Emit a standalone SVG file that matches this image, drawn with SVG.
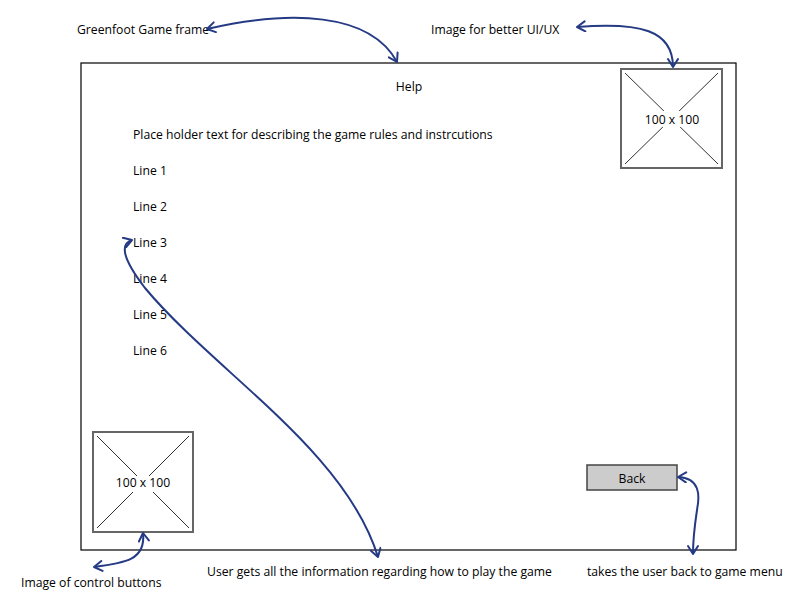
<svg xmlns="http://www.w3.org/2000/svg" width="800" height="600" viewBox="0 0 800 600">
<defs>
<marker id="ah" viewBox="0 0 12 12" refX="10" refY="6" markerWidth="12" markerHeight="12" markerUnits="userSpaceOnUse" orient="auto-start-reverse">
<path d="M2,1 L10,6 L2,11" fill="none" stroke="#253a84" stroke-width="2" stroke-linecap="round" stroke-linejoin="round"/>
</marker>
</defs>
<style>
text{font-family:"Comic Sans MS","Open Sans","Liberation Sans",sans-serif;font-size:12.2px;fill:#000}
.mid{text-anchor:middle}
.frame{fill:#fff;stroke:#000;stroke-width:1.2}
.img{fill:#fff;stroke:#666;stroke-width:2}
.x{stroke:#333;stroke-width:1}
.btn{fill:#ccc;stroke:#444;stroke-width:1.5}
.conn{fill:none;stroke:#253a84;stroke-width:2;marker-start:url(#ah);marker-end:url(#ah)}
</style>
<rect width="800" height="600" fill="#fff"/>
<g id="frame">
<rect class="frame" x="81" y="63" width="655" height="487"/>
<text class="mid" x="409" y="91">Help</text>
</g>
<g id="rules">
<text x="133" y="139">Place holder text for describing the game rules and instrcutions</text>
<text x="133" y="175">Line 1</text>
<text x="133" y="211">Line 2</text>
<text x="133" y="247">Line 3</text>
<text x="133" y="283">Line 4</text>
<text x="133" y="319">Line 5</text>
<text x="133" y="355">Line 6</text>
</g>
<g id="image-top">
<rect class="img" x="621" y="69" width="101" height="99"/>
<line class="x" x1="625" y1="73" x2="718" y2="164"/>
<line class="x" x1="718" y1="73" x2="625" y2="164"/>
<rect x="642" y="111" width="60" height="16" fill="#fff"/>
<text class="mid" x="672" y="124">100 x 100</text>
</g>
<g id="image-bottom">
<rect class="img" x="93" y="432" width="100" height="100"/>
<line class="x" x1="97" y1="436" x2="189" y2="528"/>
<line class="x" x1="189" y1="436" x2="97" y2="528"/>
<rect x="114" y="476" width="58" height="16" fill="#fff"/>
<text class="mid" x="143" y="487">100 x 100</text>
</g>
<g id="back">
<rect class="btn" x="587" y="465" width="90" height="25"/>
<text class="mid" x="632" y="483">Back</text>
</g>
<g id="labels">
<text x="77" y="34">Greenfoot Game frame</text>
<text x="431" y="34">Image for better UI/UX</text>
<text x="21" y="587">Image of control buttons</text>
<text x="207" y="576">User gets all the information regarding how to play the game</text>
<text x="587" y="576">takes the user back to game menu</text>
</g>
<g id="connectors">
<path class="conn" d="M207,29 C290,10 370,12 397,62"/>
<path class="conn" d="M577,27 C640,22 673,30 673,67"/>
<path class="conn" d="M143,533 C146,560 125,563 94,567"/>
<path class="conn" d="M132,240 C120,244 122,258 145,288 C215,372 345,450 378,557"/>
<path class="conn" d="M678,477 C700,478 700,495 697,510 C694,530 693,540 693,554"/>
</g>
</svg>
